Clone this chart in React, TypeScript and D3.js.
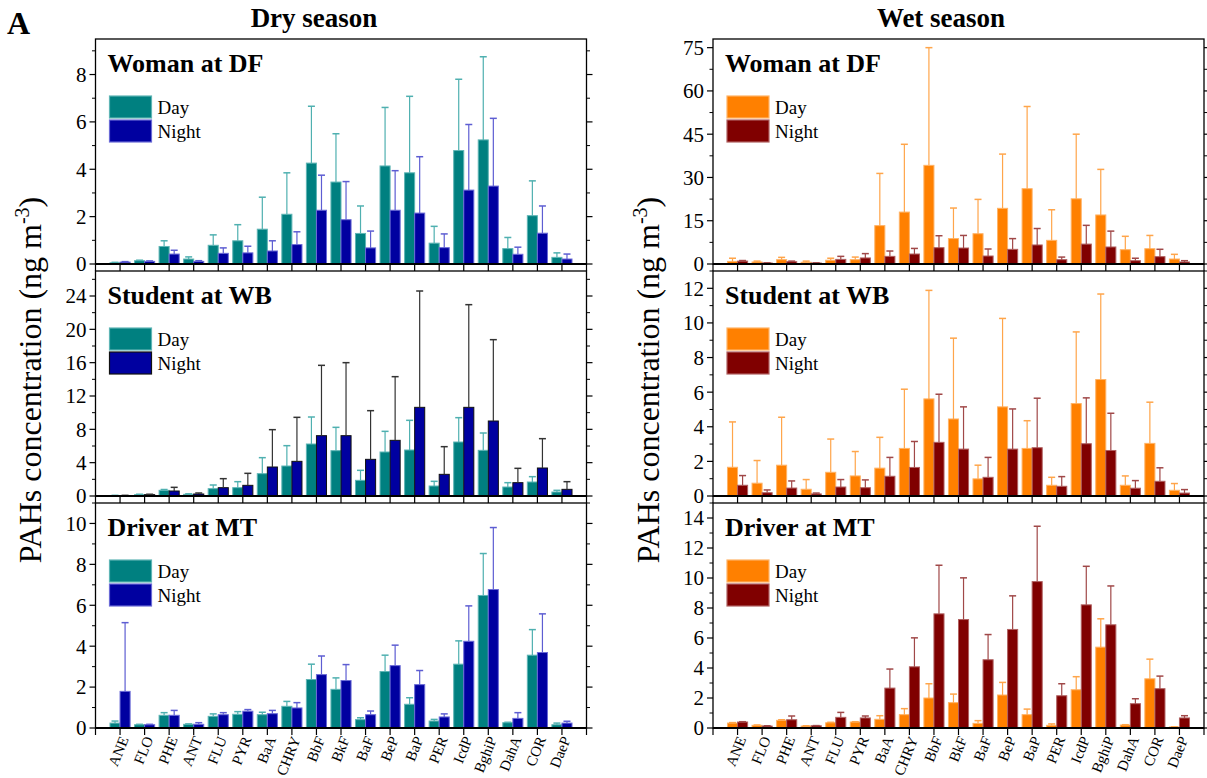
import React from 'react';
import * as d3 from 'd3';

const CATEGORIES = ['ANE', 'FLO', 'PHE', 'ANT', 'FLU', 'PYR', 'BaA', 'CHRY', 'BbF', 'BkF', 'BaF', 'BeP', 'BaP', 'PER', 'IcdP', 'BghiP', 'DahA', 'COR', 'DaeP'];

// dry season
const DRY_WOMAN_DAY = [0.05, 0.14, 0.74, 0.21, 0.79, 0.98, 1.47, 2.1, 4.26, 3.46, 1.29, 4.14, 3.85, 0.88, 4.79, 5.24, 0.65, 2.04, 0.28];
const DRY_WOMAN_DAY_SD = [0.02, 0.02, 0.24, 0.09, 0.44, 0.68, 1.35, 1.75, 2.4, 2.04, 1.16, 2.47, 3.23, 0.71, 3.01, 3.51, 0.47, 1.47, 0.19];
const DRY_WOMAN_NIGHT = [0.08, 0.11, 0.42, 0.11, 0.45, 0.47, 0.55, 0.82, 2.27, 1.87, 0.68, 2.27, 2.15, 0.69, 3.12, 3.29, 0.41, 1.3, 0.21];
const DRY_WOMAN_NIGHT_SD = [0.02, 0.02, 0.16, 0.03, 0.23, 0.28, 0.43, 0.54, 1.48, 1.61, 0.71, 1.67, 2.38, 0.58, 2.77, 2.86, 0.3, 1.15, 0.21];

const DRY_STUDENT_DAY = [0.05, 0.16, 0.68, 0.2, 0.88, 1.0, 2.68, 3.6, 6.24, 5.44, 1.88, 5.28, 5.52, 1.2, 6.48, 5.48, 1.08, 1.68, 0.48];
const DRY_STUDENT_DAY_SD = [0.03, 0.05, 0.1, 0.06, 0.44, 0.72, 1.92, 2.44, 3.24, 2.8, 1.2, 2.48, 3.56, 0.56, 2.92, 2.08, 0.52, 0.64, 0.2];
const DRY_STUDENT_NIGHT = [0.05, 0.16, 0.6, 0.24, 1.0, 1.28, 3.48, 4.16, 7.24, 7.24, 4.4, 6.68, 10.64, 2.6, 10.64, 9.0, 1.6, 3.36, 0.8];
const DRY_STUDENT_NIGHT_SD = [0.03, 0.05, 0.44, 0.12, 1.08, 1.44, 4.48, 5.28, 8.44, 8.76, 5.84, 7.64, 13.96, 3.32, 12.32, 9.76, 1.72, 3.52, 0.92];

const DRY_DRIVER_DAY = [0.24, 0.16, 0.62, 0.18, 0.57, 0.67, 0.65, 1.06, 2.37, 1.89, 0.41, 2.76, 1.16, 0.34, 3.12, 6.48, 0.26, 3.56, 0.16];
const DRY_DRIVER_DAY_SD = [0.1, 0.02, 0.13, 0.02, 0.12, 0.13, 0.12, 0.24, 0.75, 0.56, 0.09, 0.8, 0.32, 0.08, 1.14, 2.05, 0.02, 1.25, 0.08];
const DRY_DRIVER_NIGHT = [1.79, 0.16, 0.62, 0.18, 0.65, 0.82, 0.7, 0.98, 2.61, 2.32, 0.65, 3.05, 2.12, 0.54, 4.24, 6.77, 0.47, 3.69, 0.24];
const DRY_DRIVER_NIGHT_SD = [3.36, 0.02, 0.24, 0.08, 0.1, 0.08, 0.16, 0.26, 0.91, 0.78, 0.18, 1.0, 0.69, 0.15, 1.73, 3.03, 0.28, 1.89, 0.09];

// wet season
const WET_WOMAN_DAY = [0.9, 0.7, 1.5, 0.6, 1.3, 1.5, 13.3, 18.0, 34.2, 8.8, 10.5, 19.3, 26.1, 8.2, 22.6, 17.0, 4.96, 5.3, 1.73];
const WET_WOMAN_DAY_SD = [1.1, 0.3, 0.8, 0.4, 0.7, 0.9, 18.1, 23.5, 40.8, 10.6, 11.9, 18.8, 28.5, 10.6, 22.4, 15.8, 4.64, 4.6, 1.62];
const WET_WOMAN_NIGHT = [1.0, 0.35, 0.8, 0.35, 1.6, 2.1, 2.65, 3.46, 5.65, 5.54, 2.77, 5.08, 6.6, 1.5, 6.9, 5.9, 1.15, 2.54, 0.7];
const WET_WOMAN_NIGHT_SD = [0.2, 0.05, 0.2, 0.05, 1.05, 1.5, 1.85, 1.94, 4.15, 4.36, 2.43, 3.72, 5.7, 0.9, 6.5, 5.5, 0.85, 2.56, 0.45];

const WET_STUDENT_DAY = [1.66, 0.74, 1.78, 0.39, 1.37, 1.16, 1.61, 2.75, 5.61, 4.45, 0.99, 5.15, 2.75, 0.62, 5.34, 6.73, 0.62, 3.04, 0.33];
const WET_STUDENT_DAY_SD = [2.62, 1.31, 2.77, 0.56, 1.92, 1.41, 1.78, 3.42, 6.27, 4.67, 0.79, 5.11, 1.6, 0.46, 4.14, 4.94, 0.54, 2.38, 0.39];
const WET_STUDENT_NIGHT = [0.62, 0.19, 0.46, 0.12, 0.52, 0.48, 1.14, 1.65, 3.1, 2.71, 1.08, 2.71, 2.79, 0.56, 3.02, 2.63, 0.45, 0.85, 0.17];
const WET_STUDENT_NIGHT_SD = [0.56, 0.16, 0.41, 0.05, 0.43, 0.45, 1.09, 1.5, 2.78, 2.44, 1.15, 2.32, 2.86, 0.56, 2.65, 2.15, 0.44, 0.78, 0.2];

const WET_DRIVER_DAY = [0.33, 0.18, 0.51, 0.13, 0.35, 0.4, 0.58, 0.89, 2.0, 1.69, 0.31, 2.2, 0.89, 0.18, 2.55, 5.39, 0.2, 3.28, 0.07];
const WET_DRIVER_DAY_SD = [0.03, 0.02, 0.04, 0.02, 0.03, 0.02, 0.24, 0.4, 0.95, 0.57, 0.18, 0.84, 0.37, 0.09, 0.87, 1.89, 0.02, 1.31, 0.01];
const WET_DRIVER_NIGHT = [0.4, 0.13, 0.55, 0.15, 0.71, 0.67, 2.66, 4.08, 7.61, 7.23, 4.55, 6.57, 9.76, 2.15, 8.21, 6.88, 1.62, 2.62, 0.67];
const WET_DRIVER_NIGHT_SD = [0.02, 0.02, 0.25, 0.01, 0.33, 0.13, 1.27, 1.93, 3.24, 2.78, 1.68, 2.24, 3.69, 0.8, 2.57, 2.59, 0.33, 0.84, 0.15];

const FONT = "'Liberation Serif', 'DejaVu Serif', serif";
const PANEL_TOPS = [39, 271, 503];
const PANEL_H = 225;

interface Colors {
  day: string;
  dayEdge: string;
  dayErr: string;
  night: string;
  nightEdge: string;
  nightErr: string;
}

interface PanelSpec {
  title: string;
  day: number[];
  daySd: number[];
  night: number[];
  nightSd: number[];
  yMax: number;
  major: number;
  minor: number;
  colors: Colors;
}

const TEAL: Colors = { day: '#008080', dayEdge: '#5fb5b5', dayErr: '#4fb0b0', night: '#0000a0', nightEdge: '#6a6ad6', nightErr: '#5d5dd2' };
const TEAL_DARK: Colors = { ...TEAL, nightEdge: '#111', nightErr: '#333' };
const ORANGE: Colors = { day: '#ff8000', dayEdge: '#ffb366', dayErr: '#ffa54a', night: '#800000', nightEdge: '#b06060', nightErr: '#a04848' };

const DRY: PanelSpec[] = [
  { title: 'Woman at DF', day: DRY_WOMAN_DAY, daySd: DRY_WOMAN_DAY_SD, night: DRY_WOMAN_NIGHT, nightSd: DRY_WOMAN_NIGHT_SD, yMax: 9.5, major: 2, minor: 1, colors: TEAL },
  { title: 'Student at WB', day: DRY_STUDENT_DAY, daySd: DRY_STUDENT_DAY_SD, night: DRY_STUDENT_NIGHT, nightSd: DRY_STUDENT_NIGHT_SD, yMax: 27, major: 4, minor: 2, colors: TEAL_DARK },
  { title: 'Driver at MT', day: DRY_DRIVER_DAY, daySd: DRY_DRIVER_DAY_SD, night: DRY_DRIVER_NIGHT, nightSd: DRY_DRIVER_NIGHT_SD, yMax: 11, major: 2, minor: 1, colors: TEAL },
];

const WET: PanelSpec[] = [
  { title: 'Woman at DF', day: WET_WOMAN_DAY, daySd: WET_WOMAN_DAY_SD, night: WET_WOMAN_NIGHT, nightSd: WET_WOMAN_NIGHT_SD, yMax: 78, major: 15, minor: 7.5, colors: ORANGE },
  { title: 'Student at WB', day: WET_STUDENT_DAY, daySd: WET_STUDENT_DAY_SD, night: WET_STUDENT_NIGHT, nightSd: WET_STUDENT_NIGHT_SD, yMax: 13, major: 2, minor: 1, colors: ORANGE },
  { title: 'Driver at MT', day: WET_DRIVER_DAY, daySd: WET_DRIVER_DAY_SD, night: WET_DRIVER_NIGHT, nightSd: WET_DRIVER_NIGHT_SD, yMax: 15, major: 2, minor: 1, colors: ORANGE },
];

const BAR_W = 0.41;

const Panel: React.FC<{ spec: PanelSpec; x0: number; x1: number; top: number; showLabels: boolean }> = ({ spec, x0, x1, top, showLabels }) => {
  const x = d3.scaleLinear().domain([0, 20]).range([x0, x1]);
  const y = d3.scaleLinear().domain([0, spec.yMax]).range([top + PANEL_H, top]);
  const bottom = top + PANEL_H;
  const majors = d3.range(0, spec.yMax + 1e-6, spec.major);
  const minors = d3.range(0, spec.yMax + 1e-6, spec.minor).filter((v) => Math.abs(v / spec.major - Math.round(v / spec.major)) > 1e-6);
  const c = spec.colors;
  const bw = x(BAR_W) - x(0);

  const bars = (vals: number[], sds: number[], offset: number, fill: string, edge: string, err: string, key: string) =>
    vals.map((v, i) => {
      const left = x(i + 1 + offset);
      const cx = left + bw / 2;
      const yTop = y(v);
      const yErr = y(v + sds[i]);
      return (
        <g key={`${key}${i}`}>
          <rect x={left} y={yTop} width={bw} height={bottom - yTop} fill={fill} stroke={edge} strokeWidth={1} />
          <line x1={cx} x2={cx} y1={yTop} y2={yErr} stroke={err} strokeWidth={1.2} />
          <line x1={cx - 3.5} x2={cx + 3.5} y1={yErr} y2={yErr} stroke={err} strokeWidth={1.5} />
        </g>
      );
    });

  return (
    <g fontFamily={FONT}>
      {bars(spec.day, spec.daySd, -BAR_W, c.day, c.dayEdge, c.dayErr, 'd')}
      {bars(spec.night, spec.nightSd, 0, c.night, c.nightEdge, c.nightErr, 'n')}
      <rect x={x0} y={top} width={x1 - x0} height={PANEL_H} fill="none" stroke="#000" strokeWidth={1.3} />
      <line x1={x0} x2={x1} y1={bottom} y2={bottom} stroke="#000" strokeWidth={2.2} />
      {majors.map((v) => (
        <g key={`ym${v}`}>
          <line x1={x0 - 6} x2={x0} y1={y(v)} y2={y(v)} stroke="#000" strokeWidth={1.2} />
          <line x1={x1} x2={x1 + 6} y1={y(v)} y2={y(v)} stroke="#000" strokeWidth={1.2} />
          <text x={x0 - 9} y={y(v)} dy="0.35em" textAnchor="end" fontSize={21}>
            {v}
          </text>
        </g>
      ))}
      {minors.map((v) => (
        <g key={`yn${v}`}>
          <line x1={x0 - 3.5} x2={x0} y1={y(v)} y2={y(v)} stroke="#000" strokeWidth={1} />
          <line x1={x1} x2={x1 + 3.5} y1={y(v)} y2={y(v)} stroke="#000" strokeWidth={1} />
        </g>
      ))}
      {d3.range(0, 21).map((t) => (
        <line key={`xt${t}`} x1={x(t)} x2={x(t)} y1={bottom} y2={bottom + 7} stroke="#000" strokeWidth={1.2} />
      ))}
      <text x={x0 + 12} y={top + 33} fontSize={26} fontWeight="bold">
        {spec.title}
      </text>
      <rect x={x0 + 14} y={top + 57} width={42} height={22} fill={c.day} stroke={c.dayEdge} strokeWidth={1.2} />
      <rect x={x0 + 14} y={top + 81} width={42} height={22} fill={c.night} stroke={c.nightEdge} strokeWidth={1.2} />
      <text x={x0 + 62} y={top + 68} dy="0.35em" fontSize={19}>
        Day
      </text>
      <text x={x0 + 62} y={top + 92} dy="0.35em" fontSize={19}>
        Night
      </text>
      {showLabels &&
        CATEGORIES.map((name, i) => (
          <text
            key={name}
            transform={`translate(${x(i + 1) + 4},${bottom + 9}) rotate(-68)`}
            textAnchor="end"
            dy="0.35em"
            fontSize={15}
          >
            {name}
          </text>
        ))}
    </g>
  );
};

const YLabel: React.FC<{ cx: number; cy: number }> = ({ cx, cy }) => (
  <text transform={`translate(${cx},${cy}) rotate(-90)`} textAnchor="middle" fontSize={32} fontFamily={FONT}>
    PAHs concentration (ng m
    <tspan dy={-12} fontSize={20}>
      -3
    </tspan>
    <tspan dy={12}>)</tspan>
  </text>
);

const App: React.FC = () => {
  const left = { x0: 95.5, x1: 586.5 };
  const right = { x0: 713, x1: 1204 };
  return (
    <svg width={1207} height={778} style={{ position: 'absolute', left: 0, top: 0, background: '#fff' }} fontFamily={FONT}>
      <text x={7} y={34} fontSize={32} fontWeight="bold">
        A
      </text>
      <text x={314} y={27} textAnchor="middle" fontSize={27} fontWeight="bold">
        Dry season
      </text>
      <text x={941} y={27} textAnchor="middle" fontSize={27} fontWeight="bold">
        Wet season
      </text>
      <YLabel cx={41} cy={380} />
      <YLabel cx={659} cy={380} />
      {DRY.map((p, i) => (
        <Panel key={`dry${i}`} spec={p} x0={left.x0} x1={left.x1} top={PANEL_TOPS[i]} showLabels={i === 2} />
      ))}
      {WET.map((p, i) => (
        <Panel key={`wet${i}`} spec={p} x0={right.x0} x1={right.x1} top={PANEL_TOPS[i]} showLabels={i === 2} />
      ))}
    </svg>
  );
};

export default App;
